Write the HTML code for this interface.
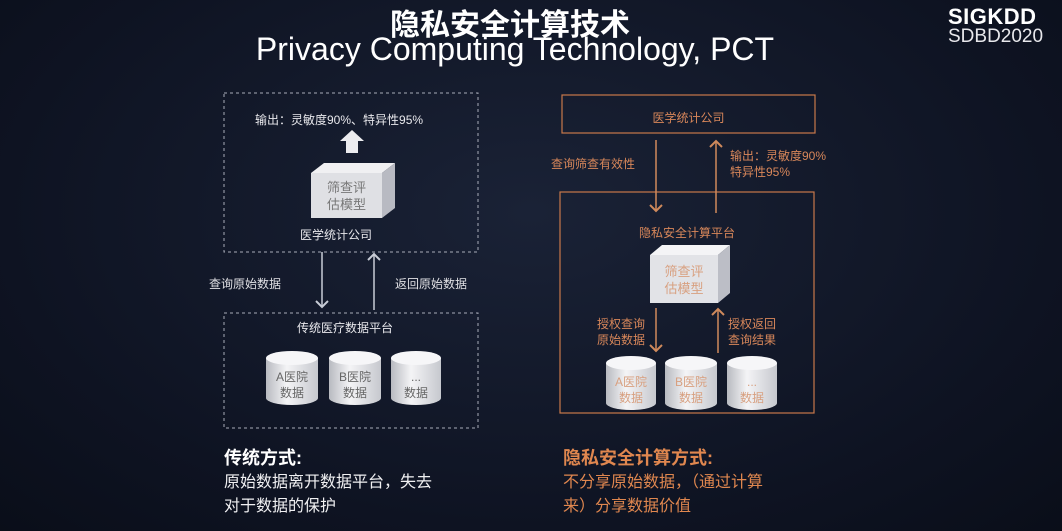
<!DOCTYPE html>
<html><head><meta charset="utf-8"><style>
html,body{margin:0;padding:0}
body{width:1062px;height:531px;overflow:hidden;background:radial-gradient(ellipse at 50% 40%,#1a2236 0%,#0e1322 70%,#0a0e19 100%);font-family:"Liberation Sans","Noto Sans CJK SC",sans-serif;position:relative}
.t{position:absolute;white-space:nowrap}
</style></head><body>
<svg width="1062" height="531" style="position:absolute;left:0;top:0">
<defs>
<marker id="aw" markerWidth="10" markerHeight="10" refX="5" refY="5" orient="auto"><path d="M1,1 L5,5 L1,9" fill="none" stroke="#c8ccd6" stroke-width="1.3"/></marker>
<marker id="ao" markerWidth="10" markerHeight="10" refX="5" refY="5" orient="auto"><path d="M1,1 L5,5 L1,9" fill="none" stroke="#d08a5c" stroke-width="1.3"/></marker>
<linearGradient id="cy" x1="0" x2="1"><stop offset="0" stop-color="#b8bac0"/><stop offset="0.4" stop-color="#f4f4f6"/><stop offset="1" stop-color="#c6c8ce"/></linearGradient>
</defs>
<rect x="224" y="93" width="254" height="159" fill="none" stroke="#a8acb8" stroke-dasharray="3,3"/>
<rect x="224" y="313" width="254" height="115" fill="none" stroke="#a8acb8" stroke-dasharray="3,3"/>
<path d="M346,153 V141 H340 L352,130 L364,141 H358 V153 Z" fill="#ececef"/>
<polygon points="311,173 324,163 395,163 382,173" fill="#f0f0f2"/>
<polygon points="382,173 395,163 395,208 382,218" fill="#b8bac2"/>
<rect x="311" y="173" width="71" height="45" fill="#dfe0e4"/>
<line x1="322" y1="252" x2="322" y2="307" stroke="#c8ccd6" stroke-width="1.5" marker-end="url(#aw)"/>
<line x1="374" y1="310" x2="374" y2="254" stroke="#c8ccd6" stroke-width="1.5" marker-end="url(#aw)"/>
<g>
<path d="M266,358 V398 A26,7 0 0 0 318,398 V358" fill="url(#cy)"/><ellipse cx="292" cy="358" rx="26" ry="7" fill="#f6f6f8"/>
<path d="M329,358 V398 A26,7 0 0 0 381,398 V358" fill="url(#cy)"/><ellipse cx="355" cy="358" rx="26" ry="7" fill="#f6f6f8"/>
<path d="M391,358 V398 A25,7 0 0 0 441,398 V358" fill="url(#cy)"/><ellipse cx="416" cy="358" rx="25" ry="7" fill="#f6f6f8"/>
</g>
<rect x="562" y="95" width="253" height="38" fill="none" stroke="#c8784a" stroke-width="1.2"/>
<rect x="560" y="192" width="254" height="221" fill="none" stroke="#c8784a" stroke-width="1.2"/>
<line x1="656" y1="140" x2="656" y2="211" stroke="#d08a5c" stroke-width="1.5" marker-end="url(#ao)"/>
<line x1="716" y1="213" x2="716" y2="141" stroke="#d08a5c" stroke-width="1.5" marker-end="url(#ao)"/>
<polygon points="650,255 662,245 730,245 718,255" fill="#f4f4f6"/>
<polygon points="718,255 730,245 730,293 718,303" fill="#bcbec6"/>
<rect x="650" y="255" width="68" height="48" fill="#e2e3e7"/>
<line x1="656" y1="308" x2="656" y2="351" stroke="#d08a5c" stroke-width="1.5" marker-end="url(#ao)"/>
<line x1="718" y1="353" x2="718" y2="309" stroke="#d08a5c" stroke-width="1.5" marker-end="url(#ao)"/>
<path d="M606,363 V403 A25,7 0 0 0 656,403 V363" fill="url(#cy)"/><ellipse cx="631" cy="363" rx="25" ry="7" fill="#f6f6f8"/>
<path d="M665,363 V403 A26,7 0 0 0 717,403 V363" fill="url(#cy)"/><ellipse cx="691" cy="363" rx="26" ry="7" fill="#f6f6f8"/>
<path d="M727,363 V403 A25,7 0 0 0 777,403 V363" fill="url(#cy)"/><ellipse cx="752" cy="363" rx="25" ry="7" fill="#f6f6f8"/>
</svg>

<div class="t" style="left:0;width:1020px;text-align:center;top:0px;font-size:30px;font-weight:bold;color:#fff">隐私安全计算技术</div>
<div class="t" style="left:0;width:1030px;text-align:center;top:31px;font-size:32px;color:#fff">Privacy Computing Technology, PCT</div>
<div class="t" style="left:948px;top:4px;font-size:22px;font-weight:bold;color:#fff;letter-spacing:0.5px">SIGKDD</div>
<div class="t" style="left:948px;top:26px;font-size:19px;color:#e8e8ec">SDBD2020</div>

<div class="t" style="left:255px;top:111px;font-size:12px;color:#e8e8ec">输出：灵敏度90%、特异性95%</div>
<div class="t" style="left:311px;top:179px;width:71px;text-align:center;font-size:13px;line-height:17px;color:#777">筛查评<br>估模型</div>
<div class="t" style="left:300px;top:226px;font-size:12px;color:#e8e8ec">医学统计公司</div>
<div class="t" style="left:209px;top:275px;font-size:12px;color:#e0e0e4">查询原始数据</div>
<div class="t" style="left:395px;top:275px;font-size:12px;color:#e0e0e4">返回原始数据</div>
<div class="t" style="left:297px;top:319px;font-size:12px;color:#e8e8ec">传统医疗数据平台</div>
<div class="t" style="left:266px;top:369px;width:52px;text-align:center;font-size:12px;line-height:16px;color:#666">A医院<br>数据</div>
<div class="t" style="left:329px;top:369px;width:52px;text-align:center;font-size:12px;line-height:16px;color:#666">B医院<br>数据</div>
<div class="t" style="left:391px;top:369px;width:50px;text-align:center;font-size:12px;line-height:16px;color:#666">...<br>数据</div>

<div class="t" style="left:224px;top:444px;font-size:18px;font-weight:bold;color:#fff">传统方式:</div>
<div class="t" style="left:224px;top:471px;font-size:16px;line-height:24px;color:#f0f0f2">原始数据离开数据平台，失去<br>对于数据的保护</div>

<div class="t" style="left:562px;top:109px;width:253px;text-align:center;font-size:12px;color:#d8875a">医学统计公司</div>
<div class="t" style="left:551px;top:155px;font-size:12px;color:#d8875a">查询筛查有效性</div>
<div class="t" style="left:730px;top:148px;font-size:12px;line-height:16px;color:#d8875a">输出：灵敏度90%<br>特异性95%</div>
<div class="t" style="left:560px;top:224px;width:254px;text-align:center;font-size:12px;color:#d8875a">隐私安全计算平台</div>
<div class="t" style="left:650px;top:263px;width:68px;text-align:center;font-size:13px;line-height:17px;color:#d8a080">筛查评<br>估模型</div>
<div class="t" style="left:597px;top:316px;font-size:12px;line-height:16px;color:#d8875a">授权查询<br>原始数据</div>
<div class="t" style="left:728px;top:316px;font-size:12px;line-height:16px;color:#d8875a">授权返回<br>查询结果</div>
<div class="t" style="left:606px;top:374px;width:50px;text-align:center;font-size:12px;line-height:16px;color:#d8a080">A医院<br>数据</div>
<div class="t" style="left:665px;top:374px;width:52px;text-align:center;font-size:12px;line-height:16px;color:#d8a080">B医院<br>数据</div>
<div class="t" style="left:727px;top:374px;width:50px;text-align:center;font-size:12px;line-height:16px;color:#d8a080">...<br>数据</div>

<div class="t" style="left:563px;top:444px;font-size:18px;font-weight:bold;color:#e0874f">隐私安全计算方式:</div>
<div class="t" style="left:563px;top:471px;font-size:16px;line-height:24px;color:#e0874f">不分享原始数据，（通过计算<br>来）分享数据价值</div>
</body></html>
